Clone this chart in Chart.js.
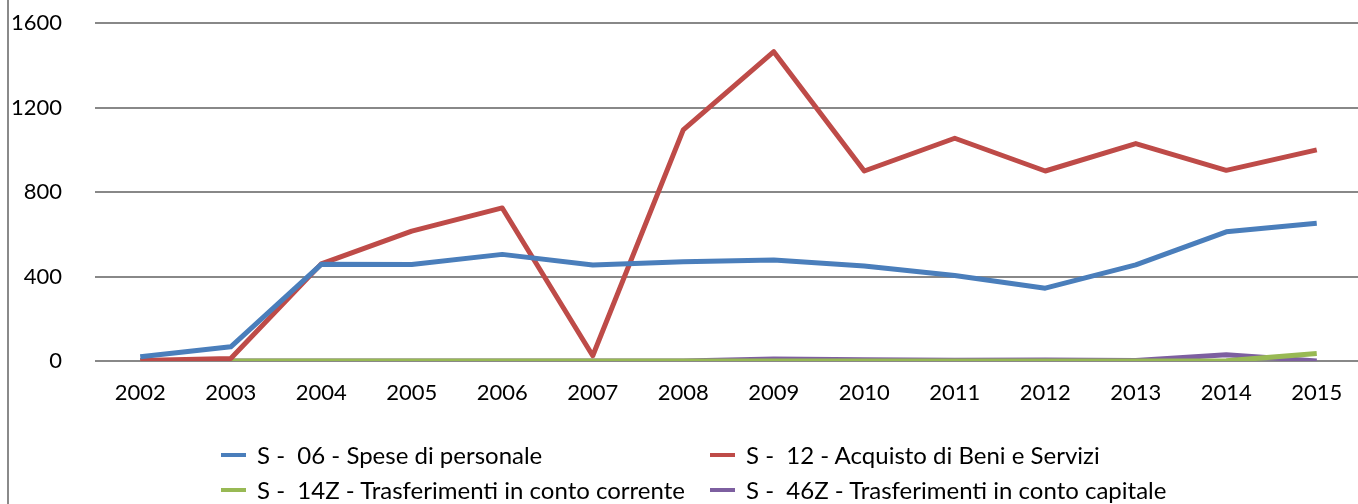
<!DOCTYPE html>
<html>
<head>
<meta charset="utf-8">
<script src="https://cdn.jsdelivr.net/npm/chart.js@4.4.1/dist/chart.umd.min.js"></script>
<style>
  html, body { margin: 0; padding: 0; background: #fff; overflow: hidden; }
  #wrap { position: relative; width: 1358px; height: 504px; overflow: hidden; }
  #frame { position: absolute; left: 7px; top: 0; width: 2px; height: 504px; background: #8a8a8a; }
  #box { position: absolute; left: 0; top: -23px; width: 1362px; height: 527px; }
  .leg { position: absolute; font-family: Lato, sans-serif; font-size: 24px; color: #000; white-space: pre; line-height: 26px; }
  .leg i { position: absolute; width: 25px; height: 4px; }
</style>
</head>
<body>
<div id="wrap">
  <div id="box"><canvas id="chart" width="1362" height="527"></canvas></div>
  <div id="frame"></div>
  <div id="legend"></div>
</div>
<script>
// anni
var years = ['2002','2003','2004','2005','2006','2007','2008','2009','2010','2011','2012','2013','2014','2015'];

// serie
var spesePersonale   = [20, 67, 458, 457, 505, 455, 470, 478, 450, 405, 345, 455, 612, 652];
var acquistoBeni     = [2, 12, 460, 615, 725, 25, 1095, 1465, 900, 1055, 900, 1030, 903, 1000];
var trasfCorrente    = [0, 0, 0, 0, 0, 0, 0, 0, 0, 0, 0, 0, 1, 35];
var trasfCapitale    = [0, 0, 0, 0, 0, 0, 0, 10, 6, 3, 5, 2, 30, 0];

var seriesNames = [
    'S -  06 - Spese di personale',
    'S -  12 - Acquisto di Beni e Servizi',
    'S -  14Z - Trasferimenti in conto corrente',
    'S -  46Z - Trasferimenti in conto capitale'
];
var seriesColors = ['#4a7ebb', '#be4b48', '#98b954', '#7d5fa0'];
var yTicks = [0, 400, 800, 1200, 1600];

var allData = [spesePersonale, acquistoBeni, trasfCorrente, trasfCapitale];
var datasets = [];
for (var i = 0; i < allData.length; i++) {
    datasets.push({
        label: seriesNames[i],
        data: allData[i],
        borderColor: seriesColors[i],
        backgroundColor: seriesColors[i],
        borderWidth: 5,
        pointRadius: 0,
        tension: 0,
        borderJoinStyle: 'round',
        borderCapStyle: 'butt'
    });
}

var font = { family: 'Lato', size: 22 };

var ctx = document.getElementById('chart');
var myChart = new Chart(ctx, {
    type: 'line',
    data: { labels: years, datasets: datasets },
    options: {
        responsive: false,
        animation: false,
        layout: { padding: 0 },
        plugins: { legend: { display: false }, tooltip: { enabled: false } },
        scales: {
            x: {
                offset: true,
                grid: { display: false, drawTicks: false },
                border: { display: false },
                ticks: { font: font, color: '#000', padding: 19, maxRotation: 0 },
                afterFit: function(scale) { scale.height = 143; }
            },
            y: {
                min: 0,
                max: 1600,
                afterBuildTicks: function(scale) {
                    scale.ticks = yTicks.map(function(v) { return { value: v }; });
                },
                grid: { color: '#888888', lineWidth: 2, drawTicks: false },
                border: { display: false },
                ticks: {
                    font: font, color: '#000', padding: 33,
                    callback: function(v) { return String(v); }
                },
                afterFit: function(scale) { scale.width = 95; }
            }
        }
    }
});

// legenda su due colonne
var legendPos = [
    { x: 221, y: 442 }, { x: 710, y: 442 },
    { x: 221, y: 477 }, { x: 710, y: 477 }
];
var legendHtml = '';
for (var i = 0; i < seriesNames.length; i++) {
    legendHtml += '<div class="leg" style="left:' + (legendPos[i].x + 36) + 'px;top:' + legendPos[i].y + 'px">' +
        '<i style="left:-36px;top:11px;background:' + seriesColors[i] + '"></i>' + seriesNames[i] + '</div>';
}
document.getElementById('legend').innerHTML = legendHtml;
</script>
</body>
</html>
